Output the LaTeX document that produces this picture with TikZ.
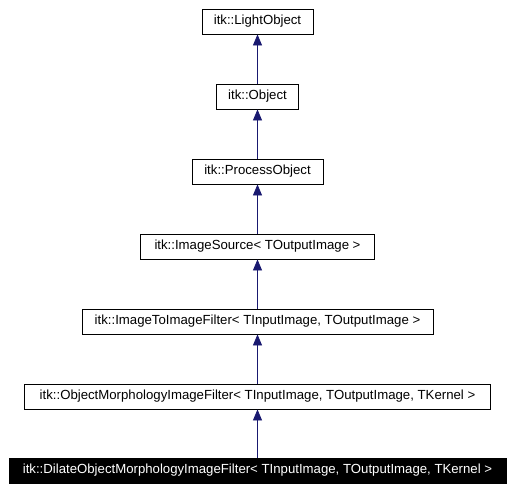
\documentclass[tikz,border=0pt]{standalone}
\usepackage{fontspec}
\setmainfont{Liberation Sans}
\usetikzlibrary{arrows.meta}
\definecolor{edgeblue}{RGB}{25,25,112}

\begin{document}
\begin{tikzpicture}[x=1pt, y=-1pt,
    cls/.style={draw, line width=0.8pt, minimum height=25pt, inner sep=0pt,
                font=\fontsize{13.2}{15}\selectfont},
    cur/.style={cls, fill=black, text=white},
    edge/.style={-{Triangle[length=11pt,width=9pt]}, edgeblue, line width=0.8pt}]
    \useasboundingbox (0,0) rectangle (514,490);
    % Classes
    \node[cls, minimum width=111pt] (light) at (257.5,21.5) {itk::LightObject};
    \node[cls, minimum width=82pt] (obj) at (257.5,96.5) {itk::Object};
    \node[cls, minimum width=131pt] (proc) at (257.5,171.5) {itk::ProcessObject};
    \node[cls, minimum width=234pt] (src) at (257.5,246.5) {itk::ImageSource< TOutputImage >};
    \node[cls, minimum width=351pt] (i2i) at (257.5,321.5) {itk::ImageToImageFilter< TInputImage, TOutputImage >};
    \node[cls, minimum width=466pt] (morph) at (257.5,396.5) {itk::ObjectMorphologyImageFilter< TInputImage, TOutputImage, TKernel >};
    \node[cur, minimum width=497pt] (dilate) at (257.5,470.5) {itk::DilateObjectMorphologyImageFilter< TInputImage, TOutputImage, TKernel >};
    % Inheritance
    \draw[edge] (obj) -- (light);
    \draw[edge] (proc) -- (obj);
    \draw[edge] (src) -- (proc);
    \draw[edge] (i2i) -- (src);
    \draw[edge] (morph) -- (i2i);
    \draw[edge] (dilate) -- (morph);
\end{tikzpicture}
\end{document}
